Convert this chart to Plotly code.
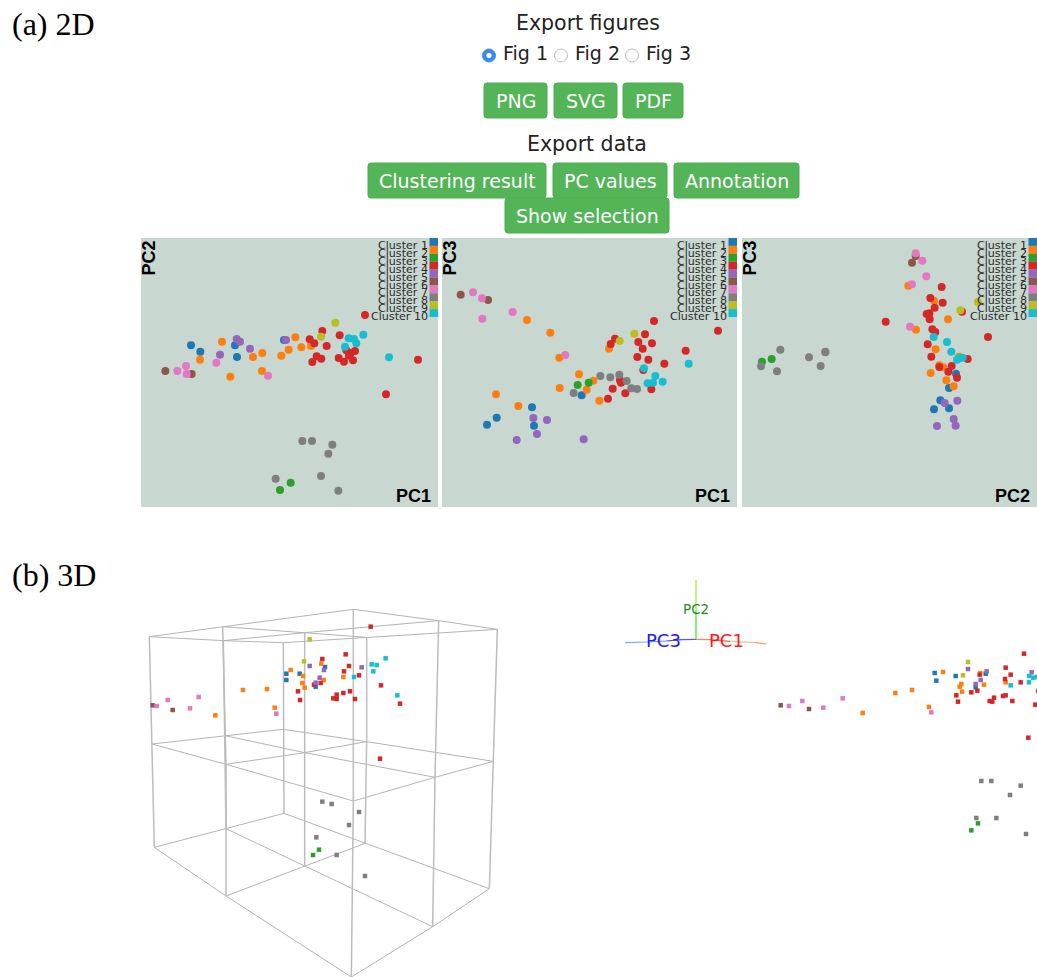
import plotly.graph_objects as go

# ---------- data (panel units are an arbitrary 3x screen scale) ----------
cluster_names = ["Cluster 1", "Cluster 2", "Cluster 3", "Cluster 4", "Cluster 5",
                 "Cluster 6", "Cluster 7", "Cluster 8", "Cluster 9", "Cluster 10"]
cluster_colors = ["#1f77b4", "#ff7f0e", "#2ca02c", "#d62728", "#9467bd",
                  "#8c564b", "#e377c2", "#7f7f7f", "#bcbd22", "#17becf"]

pc1_pc2 = [
    [(153,331),(181,350),(285,331),(291,366),(432,315)],
    [(180,374),(246,320),(271,425),(339,366),(367,354),(366,408),(424,362),(446,344),(466,307),(484,337),(513,333)],
    [(420,765),(452,743)],
    [(675,240),(547,288),(509,313),(523,325),(560,333),(599,301),(619,346),(645,348),(632,354),(627,362),(596,369),(612,380),(639,376),(530,364),(544,371),(517,381),(738,478),(834,374)],
    [(290,312),(300,320),(240,359),(330,341),(438,315)],
    [(76,408),(155,417)],
    [(112,408),(138,393),(140,417),(229,383),(384,422)],
    [(487,618),(516,618),(577,629),(565,656),(543,723),(407,731),(595,767)],
    [(586,263),(543,305)],
    [(626,310),(642,312),(670,299),(649,325),(615,335),(747,367)],
]
pc1_pc3 = [
    [(276,517),(170,548),(141,569),(282,572),(425,481)],
    [(261,255),(331,293),(358,368),(507,341),(417,418),(460,437),(440,464),(359,459),(478,497),(168,478),(235,513)],
    [(413,450),(446,443)],
    [(642,258),(834,287),(615,298),(595,321),(636,325),(608,341),(525,311),(512,327),(737,347),(592,366),(625,374),(673,386),(610,405),(540,436),(543,443),(518,461),(556,475),(504,491),(634,463)],
    [(280,549),(321,555),(291,597),(230,615),(431,613)],
    [(62,179),(144,195)],
    [(99,172),(126,190),(218,231),(127,251),(376,360)],
    [(481,423),(511,427),(538,419),(560,438),(574,460),(591,462),(401,474)],
    [(583,296),(539,318)],
    [(612,400),(646,423),(668,440),(639,443),(623,445),(746,386)],
]
pc2_pc3 = [
    [(648,416),(627,459),(601,496),(627,520),(582,523)],
    [(505,152),(582,197),(624,253),(528,284),(587,343),(657,365),(598,391),(610,397),(572,414),(619,436),(641,454)],
    [(66,380),(95,372)],
    [(605,156),(571,189),(608,203),(584,218),(666,230),(568,235),(560,237),(569,253),(437,260),(577,283),(586,291),(744,306),(563,328),(574,365),(683,372),(635,393),(598,396),(625,410),(651,428)],
    [(614,504),(652,497),(641,552),(647,572),(591,573)],
    [(527,63),(516,83)],
    [(527,55),(547,77),(559,124),(516,148),(510,275)],
    [(121,344),(256,350),(256,352),(207,367),(242,393),(63,394),(111,409)],
    [(714,201),(661,226)],
    [(581,306),(621,321),(634,350),(668,368),(657,370),(651,374)],
]
view3d_box = [
    [(439,221),(439,240),(479,221),(555,201),(527,260)],
    [(452,210),(544,191),(489,228),(487,249),(494,263),(551,240),(610,231),(309,270),(381,267),(404,323),(226,346)],
    [(537,749),(519,765)],
    [(692,80),(617,163),(547,177),(627,198),(612,214),(657,226),(542,249),(522,254),(474,274),(480,300),(590,284),(580,295),(590,297),(610,279),(630,274),(645,297),(723,256),(780,311),(720,476)],
    [(509,198),(552,210),(665,202),(539,233),(527,248)],
    [(38,316),(98,330)],
    [(50,318),(83,300),(176,291),(150,325),(409,341)],
    [(547,605),(575,612),(657,636),(627,675),(529,712),(590,765),(675,828)],
    [(509,118),(492,184)],
    [(737,175),(695,193),(710,195),(700,214),(642,231),(772,286)],
]
view3d_front = [
    [(974,309),(979,332),(1037,318),(1127,311),(1097,352)],
    [(999,306),(1111,309),(1054,342),(1049,350),(1056,365),(1122,344),(1187,337),(856,369),(906,360),(957,411),(758,429)],
    [(1104,760),(1084,781)],
    [(1242,251),(1187,293),(1109,314),(1202,314),(1185,327),(1232,337),(1102,362),(1084,367),(1039,376),(1044,395),(1152,383),(1139,393),(1147,395),(1179,378),(1187,376),(1207,393),(1285,363),(1276,404),(1255,503)],
    [(1074,297),(1130,304),(1265,307),(1112,330),(1097,342)],
    [(512,406),(597,417)],
    [(537,408),(577,393),(698,385),(640,413),(964,427)],
    [(1114,633),(1144,633),(1232,647),(1200,675),(1159,744),(1099,744),(1248,792)],
    [(1074,276),(1059,316)],
    [(1258,318),(1270,323),(1257,337),(1202,346),(1281,321)],
]
box_top = [[(28,110),(250,122),(430,128)], [(248,80),(494,98),(680,112)], [(640,28),(896,62),(1072,88)]]
box_mid = [[(36,432),(255,407),(430,388)], [(258,493),(494,458),(680,425)], [(640,603),(885,532),(1060,484)]]
box_bot = [[(43,742),(258,686),(432,640)], [(258,888),(494,798),(675,730)], [(634,1131),(878,980),(1048,866)]]

triad_pc3 = [(45,218),(110,216),(170,213),(215,209),(258,208)]
triad_pc3_colors = ["#7aa8ff", "#6f8cff", "#3b3bff", "#5a5ae8"]
triad_pc1 = [(258,208),(300,209),(360,214),(430,217),(470,222)]
triad_pc1_colors = ["#ff7f66", "#ff5a3a", "#ffb98c", "#ffa050"]
triad_pc2 = [(258,30),(258,120),(258,208)]
triad_pc2_colors = ["#99ee22", "#33ee22"]

export_fig_labels = ["Fig 1", "Fig 2", "Fig 3"]
fig_buttons = ["PNG", "SVG", "PDF"]
data_buttons = ["Clustering result", "PC values", "Annotation"]

# ---------- layout constants ----------
W, H = 1037, 977
UI = "DejaVu Sans"
PANEL_BG = "#c9d7d1"
GREEN = "#54b458"

def X(p): return p / W
def Y(p): return 1 - p / H

fig = go.Figure()
shapes, ann = [], []

def text(x, y, s, size, color="#222222", family=UI, xanchor="center", yanchor="middle", angle=0, bold=False):
    ann.append(dict(xref="paper", yref="paper", x=X(x), y=Y(y), text=f"<b>{s}</b>" if bold else s,
                    showarrow=False, xanchor=xanchor, yanchor=yanchor, textangle=angle, borderpad=0,
                    font=dict(size=size, color=color, family=family)))

def button(x0, y0, x1, y1, label, size=19):
    r = 3
    x0p, x1p, y0p, y1p = X(x0), X(x1), Y(y0), Y(y1)
    rx, ry = r / W, r / H
    path = (f"M {x0p+rx} {y0p} L {x1p-rx} {y0p} Q {x1p} {y0p} {x1p} {y0p-ry} L {x1p} {y1p+ry} "
            f"Q {x1p} {y1p} {x1p-rx} {y1p} L {x0p+rx} {y1p} Q {x0p} {y1p} {x0p} {y1p+ry} "
            f"L {x0p} {y0p-ry} Q {x0p} {y0p} {x0p+rx} {y0p} Z")
    shapes.append(dict(type="path", xref="paper", yref="paper", path=path, fillcolor=GREEN,
                       line=dict(color="#4cae4c", width=1), layer="below"))
    text((x0 + x1) / 2, (y0 + y1) / 2 + 0.5, label, size, color="white")

def circle(cx, cy, r, fill, line, lw=1):
    shapes.append(dict(type="circle", xref="paper", yref="paper", x0=X(cx-r), x1=X(cx+r), y0=Y(cy+r), y1=Y(cy-r),
                       fillcolor=fill, line=dict(color=line, width=lw), layer="above"))

def axes(idx, px0, px1, py0, py1, xr, yr):
    common = dict(visible=False, fixedrange=True, showgrid=False, zeroline=False)
    fig.layout[f"xaxis{idx}"] = dict(domain=[X(px0), X(px1)], range=xr, anchor=f"y{idx}", **common)
    fig.layout[f"yaxis{idx}"] = dict(domain=[Y(py1), Y(py0)], range=yr, anchor=f"x{idx}", **common)

def add_clusters(idx, groups, size, symbol):
    for name, col, pts in zip(cluster_names, cluster_colors, groups):
        fig.add_trace(go.Scatter(x=[p[0] for p in pts], y=[p[1] for p in pts], mode="markers", name=name,
                                 xaxis=f"x{idx}", yaxis=f"y{idx}", showlegend=False, hoverinfo="skip",
                                 marker=dict(size=size, color=col, symbol=symbol, line=dict(width=0))))

def add_line(idx, pts, color, width=1.0):
    fig.add_trace(go.Scatter(x=[p[0] for p in pts], y=[p[1] for p in pts], mode="lines", showlegend=False,
                             xaxis=f"x{idx}", yaxis=f"y{idx}", hoverinfo="skip",
                             line=dict(color=color, width=width)))

# ---------- 2D panels ----------
panels = [
    (1, 141, 438, 3, pc1_pc2, "PC2", "PC1"),
    (2, 442, 737, 6, pc1_pc3, "PC3", "PC1"),
    (3, 742, 1037, 6, pc2_pc3, "PC3", "PC2"),
]
for idx, x0, x1, zx0, groups, ylab, xlab in panels:
    axes(idx, x0, x1, 238, 507, [zx0, zx0 + (x1 - x0) * 3], [816, 9])
    shapes.append(dict(type="rect", xref="paper", yref="paper", x0=X(x0), x1=X(x1), y0=Y(507), y1=Y(238),
                       fillcolor=PANEL_BG, line=dict(width=0), layer="below"))
    add_clusters(idx, groups, 8, "circle")
    for i, (name, col) in enumerate(zip(cluster_names, cluster_colors)):
        ytop = 238 + i * 7.9
        shapes.append(dict(type="rect", xref="paper", yref="paper", x0=X(x1 - 8.5), x1=X(x1), y0=Y(ytop + 7.9), y1=Y(ytop),
                           fillcolor=col, line=dict(width=0), layer="above"))
        text(x1 - 9.5, ytop + 7.5, name, 11.1, color="#2b2b2b", xanchor="right")
    text(x0 + 7.5, 258, ylab, 18, color="black", family="Liberation Sans", angle=-90, bold=True)
    text(x1 - 24.5, 496, xlab, 18, color="black", family="Liberation Sans", bold=True)

# ---------- 3D views ----------
axes(4, 140, 510, 600, 977, [0, 1110], [1131, 0])
grid_color = "#b4b4b4"
for level in (box_top, box_mid, box_bot):
    for i in range(3):
        add_line(4, level[i], grid_color)
        add_line(4, [level[j][i] for j in range(3)], grid_color)
for i in range(3):
    for j in range(3):
        add_line(4, [box_top[i][j], box_mid[i][j], box_bot[i][j]], "#bcbcbc", 1.5)
add_clusters(4, view3d_box, 4.5, "square")

axes(5, 610, 1037, 570, 850, [0, 1281], [840, 0])
for pts, cols, w in ((triad_pc3, triad_pc3_colors, 1.2), (triad_pc1, triad_pc1_colors, 1.2), (triad_pc2, triad_pc2_colors, 1.2)):
    for k, c in enumerate(cols):
        add_line(5, pts[k:k+2], c, w)
add_clusters(5, view3d_front, 4.5, "square")
text(696, 609, "PC2", 13.5, color="#1f8a1f")
text(663, 640, "PC3", 18, color="#1a1aff")
text(726, 640, "PC1", 18, color="#ff1a1a")

# ---------- page furniture ----------
text(11, 24, "(a) 2D", 32, color="black", family="Liberation Serif", xanchor="left")
text(11, 575, "(b) 3D", 32, color="black", family="Liberation Serif", xanchor="left")
text(587.5, 23, "Export figures", 20.5)
text(587, 144, "Export data", 20.5)

for lx, rx, lab, on in zip((502, 574, 645), (489, 561, 632), export_fig_labels, (True, False, False)):
    text(lx, 53.5, lab, 19, xanchor="left")
    if on:
        circle(rx, 55.5, 6.5, "#3b88f5", "#3b88f5")
        circle(rx, 55.5, 2.2, "white", "white")
    else:
        circle(rx, 55.5, 6.5, "white", "#bdbdbd")

for (x0, x1), lab in zip(((484, 547), (554, 617), (623, 683)), fig_buttons):
    button(x0, 83, x1, 118, lab)
for (x0, x1), lab in zip(((368, 546), (553, 667), (674, 799)), data_buttons):
    button(x0, 163, x1, 198, lab)
button(505, 198, 669, 233, "Show selection")

fig.update_layout(width=W, height=H, margin=dict(l=0, r=0, t=0, b=0, pad=0), autosize=False,
                  paper_bgcolor="white", plot_bgcolor="rgba(0,0,0,0)", showlegend=False,
                  shapes=shapes, annotations=ann, hovermode=False, dragmode=False)

fig.write_html("out.html", config={"displayModeBar": False, "responsive": False},
               post_script="document.body.style.margin='0';document.documentElement.style.overflow='hidden';")
